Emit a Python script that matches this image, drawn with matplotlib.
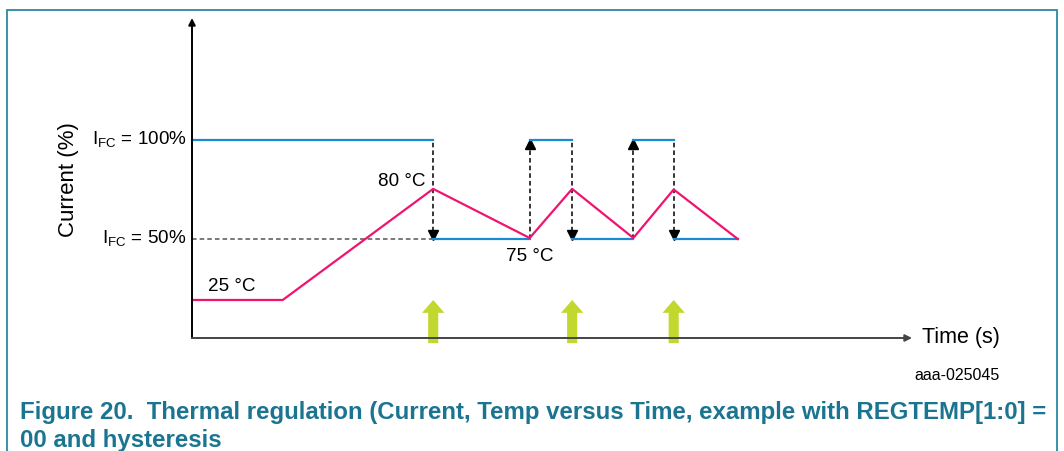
import matplotlib.pyplot as plt
from matplotlib.patches import Rectangle

plt.rcParams['font.family'] = ['Liberation Sans', 'DejaVu Sans']

nan = float('nan')

# time axis in arbitrary units (0..100), current in % (NaN breaks the steps)
t_current = [0, 33.5, nan, 33.5, 46.9, nan, 46.9, 52.8, nan, 52.8, 61.3, nan, 61.3, 66.9, nan, 66.9, 75.8]
current = [100, 100, nan, 50, 50, nan, 100, 100, nan, 50, 50, nan, 100, 100, nan, 50, 50]

# temperature curve (schematic level on the same vertical scale)
t_temp = [0, 12.6, 33.5, 46.9, 52.8, 61.3, 66.9, 75.8]
temp_level = [19.2, 19.2, 75.3, 50.5, 75.3, 50.5, 75.0, 50.0]

# hysteresis switching events: time, direction (-1 down / +1 up)
switch_t = [33.5, 46.9, 52.8, 61.3, 66.9]
switch_dir = [-1, 1, -1, 1, -1]

# thermal regulation trigger markers (green arrows)
trigger_t = [33.5, 52.8, 66.9]

blue = '#1a8ad4'
pink = '#f0146e'
green = '#c2d82e'
teal = '#1b7591'

fig = plt.figure(figsize=(10.64, 4.51), dpi=100)
ax = fig.add_axes([192 / 1064, 113 / 451, 720 / 1064, 320 / 451])
ax.set_xlim(0, 100)
ax.set_ylim(0, 161.6)
ax.axis('off')

# axes with arrowheads
ax.annotate('', xy=(0, 1.0), xytext=(0, 0), xycoords='axes fraction',
            arrowprops=dict(arrowstyle='-|>', color='black', lw=1.4,
                            mutation_scale=10, shrinkA=0, shrinkB=0))
ax.annotate('', xy=(1.0, 0), xytext=(0, 0), xycoords='axes fraction',
            arrowprops=dict(arrowstyle='-|>', color='#444444', lw=1.4,
                            mutation_scale=10, shrinkA=0, shrinkB=0))

# dashed reference at 50 %
ax.plot([0, switch_t[0]], [50, 50], ls='--', color='#555555', lw=1.1, dashes=(3, 2))

# dashed switching arrows
for ts, d in zip(switch_t, switch_dir):
    ax.plot([ts, ts], [50, 100], ls='--', color='black', lw=1.1, dashes=(3, 2))
    if d < 0:
        ax.plot(ts, 52, marker='v', color='black', ms=6.5)
    else:
        ax.plot(ts, 98, marker='^', color='black', ms=6.5)

ax.plot(t_current, current, color=blue, lw=1.6)
ax.plot(t_temp, temp_level, color=pink, lw=1.6)

for tt in trigger_t:
    ax.arrow(tt, -2.6, 0, 21.8, width=1.4, head_width=3.1, head_length=6.5,
             length_includes_head=True, color=green, ec='none', clip_on=False)

fs = 13.6
ax.text(-0.8, 100, r'I$_{\mathregular{FC}}$ = 100%', ha='right', va='center', fontsize=fs)
ax.text(-0.8, 50, r'I$_{\mathregular{FC}}$ = 50%', ha='right', va='center', fontsize=fs)
ax.text(-17.2, 80, 'Current (%)', rotation=90, ha='center', va='center', fontsize=16)
ax.text(32.4, 78.8, '80 °C', ha='right', va='center', fontsize=fs)
ax.text(46.9, 41.4, '75 °C', ha='center', va='center', fontsize=fs)
ax.text(2.2, 25.8, '25 °C', ha='left', va='center', fontsize=fs)
ax.text(101.4, 0, 'Time (s)', ha='left', va='center', fontsize=15.5)

fig.text(1000 / 1064, 1 - 375 / 451, 'aaa-025045', ha='right', va='center', fontsize=11.5)
fig.text(20 / 1064, 1 - 401 / 451,
         'Figure 20.  Thermal regulation (Current, Temp versus Time, example with REGTEMP[1:0] =\n00 and hysteresis',
         ha='left', va='top', fontsize=17.3, fontweight='bold', color=teal, linespacing=1.3)

fig.add_artist(Rectangle((7 / 1064, -0.1), 1050 / 1064, 1.1 - 10 / 451,
                         transform=fig.transFigure, fill=False, ec='#2a8aa3', lw=1.3))

fig.savefig('out.png', dpi=100)
